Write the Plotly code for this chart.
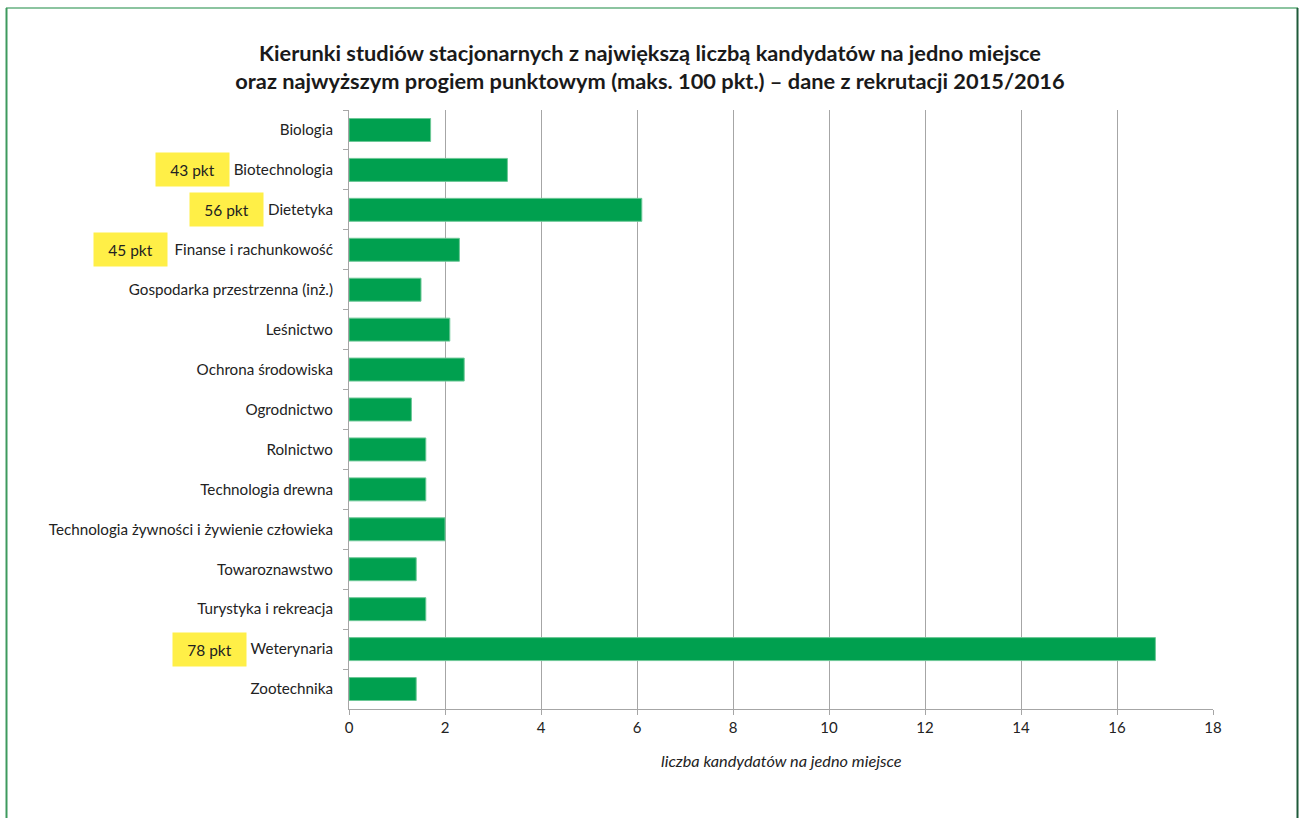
import plotly.graph_objects as go

categories = [
    "Biologia", "Biotechnologia", "Dietetyka", "Finanse i rachunkowość",
    "Gospodarka przestrzenna (inż.)", "Leśnictwo", "Ochrona środowiska",
    "Ogrodnictwo", "Rolnictwo", "Technologia drewna",
    "Technologia żywności i żywienie człowieka", "Towaroznawstwo",
    "Turystyka i rekreacja", "Weterynaria", "Zootechnika",
]
values = [1.7, 3.3, 6.1, 2.3, 1.5, 2.1, 2.4, 1.3, 1.6, 1.6, 2.0, 1.4, 1.6, 16.8, 1.4]

threshold_categories = ["Biotechnologia", "Dietetyka", "Finanse i rachunkowość", "Weterynaria"]
threshold_points = [43, 56, 45, 78]
threshold_box_centers_px = [192, 226, 130, 209]

x_ticks = [0, 2, 4, 6, 8, 10, 12, 14, 16, 18]

W, H = 1302, 818
L, R, T, B = 349, 1213, 110, 709


def px_x(px):
    return (px - L) / (R - L)


def px_y(py):
    return (B - py) / (B - T)


FONT = "Lato, 'Noto Sans', sans-serif"

fig = go.Figure()
fig.add_trace(go.Bar(
    x=values, y=categories, orientation="h",
    marker=dict(color="#00A04F", line=dict(color="#6CC896", width=1)),
    hoverinfo="x+y",
))

annotations = []
for cat, pts, cx in zip(threshold_categories, threshold_points, threshold_box_centers_px):
    annotations.append(dict(
        text=f"{pts} pkt", xref="paper", yref="y", x=px_x(cx), y=cat,
        xanchor="center", yanchor="middle", showarrow=False,
        bgcolor="#FFEF47", width=73, height=33, borderpad=0,
        font=dict(family=FONT, size=15.5, color="#222222"),
    ))

annotations.append(dict(
    text="<i>liczba kandydatów na jedno miejsce</i>", xref="paper", yref="paper",
    x=0.5, y=px_y(760), xanchor="center", yanchor="middle", showarrow=False,
    font=dict(family=FONT, size=16.3, color="#222222"),
))

shapes = [
    dict(type="line", xref="paper", yref="paper", x0=px_x(6), x1=px_x(1298),
         y0=px_y(8), y1=px_y(8), line=dict(color="#8CC4A0", width=2)),
    dict(type="line", xref="paper", yref="paper", x0=px_x(6.5), x1=px_x(6.5),
         y0=px_y(8), y1=px_y(830), line=dict(color="#3E9A5E", width=2)),
    dict(type="line", xref="paper", yref="paper", x0=px_x(1297.5), x1=px_x(1297.5),
         y0=px_y(8), y1=px_y(830), line=dict(color="#1F5A3A", width=2)),
]

fig.update_layout(
    width=W, height=H,
    margin=dict(l=L, r=W - R, t=T, b=H - B, autoexpand=False),
    paper_bgcolor="white", plot_bgcolor="white",
    bargap=0.425,
    showlegend=False,
    title=dict(
        text="<b>Kierunki studiów stacjonarnych z największą liczbą kandydatów na jedno miejsce<br>"
             "oraz najwyższym progiem punktowym (maks. 100 pkt.) – dane z rekrutacji 2015/2016</b>",
        x=650 / W, xref="container", xanchor="center", y=1 - 61 / H, yref="container",
        yanchor="middle",
        font=dict(family=FONT, size=21.8, color="#1a1a1a"),
    ),
    xaxis=dict(
        range=[0, 18], tickvals=x_ticks, showgrid=True, gridcolor="#A6A6A6", gridwidth=1,
        zeroline=False, showline=True, linecolor="#A6A6A6", linewidth=1,
        ticks="outside", ticklen=5, tickcolor="#A6A6A6",
        tickfont=dict(family=FONT, size=15, color="#222222"),
        fixedrange=True,
    ),
    yaxis=dict(
        categoryorder="array", categoryarray=categories, autorange="reversed",
        showgrid=False, showline=True, linecolor="#A6A6A6", linewidth=1,
        ticks="outside", ticklen=5, tickcolor="#A6A6A6", tickson="boundaries",
        ticklabelstandoff=12,
        tickfont=dict(family=FONT, size=15.2, color="#222222"),
        fixedrange=True,
    ),
    annotations=annotations,
    shapes=shapes,
)

fig.write_html("out.html", config={"displayModeBar": False},
               post_script="document.body.style.margin='0';")
